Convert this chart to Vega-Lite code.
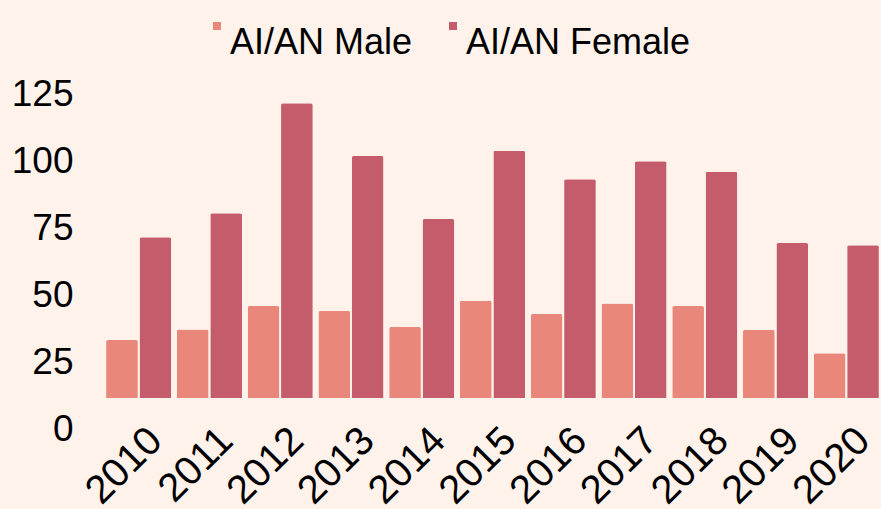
{
  "$schema": "https://vega.github.io/schema/vega-lite/v6.json",
  "width": 777,
  "height": 335,
  "autosize": {"type": "none"},
  "padding": {"left": 104, "top": 63, "right": 0, "bottom": 111},
  "background": "#FEF2EB",
  "config": {
    "view": {"stroke": null},
    "font": "Liberation Sans"
  },
  "data": {
    "values": [
      {"year": "2010", "group": "AI/AN Male", "value": 21.6},
      {"year": "2010", "group": "AI/AN Female", "value": 60.0},
      {"year": "2011", "group": "AI/AN Male", "value": 25.6},
      {"year": "2011", "group": "AI/AN Female", "value": 68.9},
      {"year": "2012", "group": "AI/AN Male", "value": 34.3},
      {"year": "2012", "group": "AI/AN Female", "value": 110.0},
      {"year": "2013", "group": "AI/AN Male", "value": 32.5},
      {"year": "2013", "group": "AI/AN Female", "value": 90.3},
      {"year": "2014", "group": "AI/AN Male", "value": 26.5},
      {"year": "2014", "group": "AI/AN Female", "value": 66.8},
      {"year": "2015", "group": "AI/AN Male", "value": 36.3},
      {"year": "2015", "group": "AI/AN Female", "value": 92.3},
      {"year": "2016", "group": "AI/AN Male", "value": 31.3},
      {"year": "2016", "group": "AI/AN Female", "value": 81.6},
      {"year": "2017", "group": "AI/AN Male", "value": 35.3},
      {"year": "2017", "group": "AI/AN Female", "value": 88.3},
      {"year": "2018", "group": "AI/AN Male", "value": 34.3},
      {"year": "2018", "group": "AI/AN Female", "value": 84.4},
      {"year": "2019", "group": "AI/AN Male", "value": 25.4},
      {"year": "2019", "group": "AI/AN Female", "value": 57.8},
      {"year": "2020", "group": "AI/AN Male", "value": 16.7},
      {"year": "2020", "group": "AI/AN Female", "value": 57.0}
    ]
  },
  "mark": {"type": "bar", "cornerRadiusTopLeft": 2, "cornerRadiusTopRight": 2},
  "encoding": {
    "x": {
      "field": "year",
      "type": "nominal",
      "scale": {"paddingInner": 0.08, "paddingOuter": 0.03},
      "axis": {
        "title": null,
        "domain": false,
        "ticks": false,
        "labelAngle": -45,
        "labelFontSize": 40,
        "labelColor": "#000000",
        "labelPadding": 22,
        "labelOffset": 3
      }
    },
    "xOffset": {
      "field": "group",
      "type": "nominal",
      "sort": ["AI/AN Male", "AI/AN Female"],
      "scale": {"paddingInner": 0.05}
    },
    "y": {
      "field": "value",
      "type": "quantitative",
      "scale": {"domain": [0, 125], "nice": false},
      "axis": {
        "title": null,
        "domain": false,
        "ticks": false,
        "grid": false,
        "values": [0, 25, 50, 75, 100, 125],
        "labelFontSize": 37,
        "labelColor": "#000000",
        "labelPadding": 31,
        "labelOffset": 31
      }
    },
    "color": {
      "field": "group",
      "type": "nominal",
      "sort": ["AI/AN Male", "AI/AN Female"],
      "scale": {"domain": ["AI/AN Male", "AI/AN Female"], "range": ["#E9887A", "#C45C6C"]},
      "legend": {
        "title": null,
        "orient": "none",
        "direction": "horizontal",
        "legendX": 95,
        "legendY": -55,
        "symbolType": "square",
        "symbolSize": 64,
        "symbolStrokeWidth": 0,
        "labelFontSize": 36,
        "labelColor": "#000000",
        "labelBaseline": "top",
        "labelOffset": -5,
        "columnPadding": 22,
        "labelLimit": 400
      }
    }
  }
}
